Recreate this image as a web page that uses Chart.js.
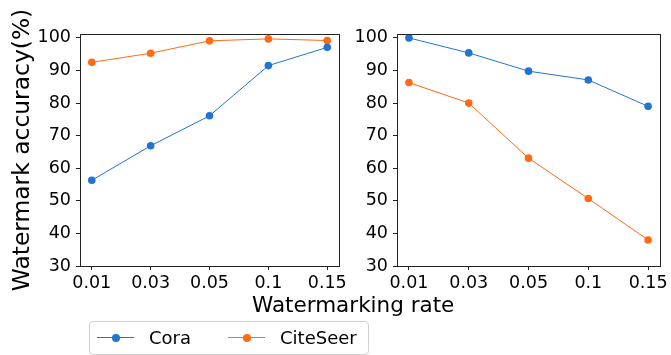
<!DOCTYPE html>
<html>
<head>
<meta charset="utf-8">
<script src="https://cdn.jsdelivr.net/npm/chart.js@4.4.1/dist/chart.umd.min.js"></script>
<style>
  html, body { margin: 0; padding: 0; background: #fff; }
  body { width: 671px; height: 355px; position: relative; overflow: hidden; font-family: "DejaVu Sans", sans-serif; }
  .panel { position: absolute; top: 0; }
  #xtitle { position: absolute; left: 252px; top: 290px; width: 200px; text-align: center; font-size: 21.5px; line-height: 30px; color: #000; white-space: nowrap; }
  #legend { position: absolute; left: 89px; top: 321px; width: 280px; height: 34px; border: 1px solid #d0d0d0; border-radius: 4px; box-sizing: border-box; background: #fff; }
  .item { position: absolute; top: 0; height: 32px; font-size: 18px; line-height: 32px; color: #000; }
  .sym { position: absolute; top: 15px; width: 37px; height: 0; border-top: 1px solid; }
  .dot { position: absolute; left: 15px; top: -4.5px; width: 8px; height: 8px; border-radius: 50%; }
  .lbl { position: absolute; left: 52px; top: 0; white-space: nowrap; }
</style>
</head>
<body>
<div class="panel" style="left:0;width:350px;height:300px"><canvas id="left" width="350" height="300"></canvas></div>
<div class="panel" style="left:340px;width:331px;height:300px"><canvas id="right" width="331" height="300"></canvas></div>
<div id="xtitle">Watermarking rate</div>
<div id="legend"></div>
<script>
// Watermarking rates on the x axis
const rates = ['0.01', '0.03', '0.05', '0.1', '0.15'];
const yTicks = [30, 40, 50, 60, 70, 80, 90, 100];

// Left panel: watermark accuracy (%)
const leftCora = [56.3, 66.9, 76.1, 91.5, 97.1];
const leftCiteSeer = [92.5, 95.3, 99.1, 99.7, 99.2];

// Right panel: watermark accuracy (%)
const rightCora = [100.0, 95.4, 89.8, 87.1, 79.0];
const rightCiteSeer = [86.3, 80.0, 63.1, 50.7, 38.0];

const seriesNames = ['Cora', 'CiteSeer'];
const colors = ['#1f75d0', '#ff6a13'];

const FONT = '"DejaVu Sans", sans-serif';

// Draws the closed box around the plotting area
const frame = {
  id: 'frame',
  afterDraw(chart) {
    const a = chart.chartArea, ctx = chart.ctx;
    ctx.save();
    ctx.strokeStyle = '#222';
    ctx.lineWidth = 1;
    ctx.strokeRect(Math.round(a.left) + 0.5, Math.round(a.top) + 0.5,
                   Math.round(a.right - a.left), Math.round(a.bottom - a.top));
    ctx.restore();
  }
};

function series(values, i) {
  return {
    label: seriesNames[i],
    data: values.map((v, k) => ({ x: k, y: v })),
    borderColor: colors[i],
    backgroundColor: colors[i],
    borderWidth: 1,
    pointRadius: 3.8,
    pointHoverRadius: 3.8,
    pointBorderWidth: 0,
    tension: 0
  };
}

function makeChart(id, cora, citeseer, opts) {
  return new Chart(document.getElementById(id), {
    type: 'line',
    data: { datasets: [series(cora, 0), series(citeseer, 1)] },
    plugins: [frame],
    options: {
      responsive: false,
      animation: false,
      events: [],
      layout: { padding: { top: opts.top, right: opts.right, left: 0, bottom: 0 } },
      plugins: { legend: { display: false }, tooltip: { enabled: false } },
      scales: {
        x: {
          type: 'linear',
          min: -0.2,
          max: rates.length - 1 + 0.2,
          afterBuildTicks: s => { s.ticks = rates.map((_, k) => ({ value: k })); },
          afterFit: s => { s.height = opts.xh; },
          ticks: {
            callback: v => rates[v],
            color: '#000',
            font: { family: FONT, size: 17.5 },
            padding: 3,
            maxRotation: 0,
            autoSkip: false
          },
          grid: { drawOnChartArea: false, drawTicks: true, tickLength: 4, color: '#222' },
          border: { display: true, color: '#222' }
        },
        y: {
          min: 30,
          max: 101.2,
          afterBuildTicks: s => { s.ticks = yTicks.map(v => ({ value: v })); },
          afterFit: s => { s.width = opts.yw; },
          ticks: {
            color: '#000',
            font: { family: FONT, size: 17.5 },
            padding: 5,
            autoSkip: false
          },
          grid: { drawOnChartArea: false, drawTicks: true, tickLength: 4, color: '#222' },
          border: { display: true, color: '#222' },
          title: {
            display: !!opts.ytitle,
            text: opts.ytitle || '',
            color: '#000',
            font: { family: FONT, size: 23.4 },
            padding: { top: 9, bottom: 0 }
          }
        }
      }
    }
  });
}

makeChart('left', leftCora, leftCiteSeer, { top: 34, right: 6, xh: 34, yw: 80, ytitle: 'Watermark accuracy(%)' });
makeChart('right', rightCora, rightCiteSeer, { top: 34, right: 9, xh: 34, yw: 57 });

// Legend below the panels
const legend = document.getElementById('legend');
const lefts = [7, 138];
seriesNames.forEach((name, i) => {
  const item = document.createElement('div');
  item.className = 'item';
  item.style.left = lefts[i] + 'px';
  item.innerHTML = '<span class="sym" style="border-color:' + colors[i] + '"><span class="dot" style="background:' + colors[i] + '"></span></span><span class="lbl"></span>';
  item.querySelector('.lbl').textContent = name;
  legend.appendChild(item);
});
</script>
</body>
</html>
